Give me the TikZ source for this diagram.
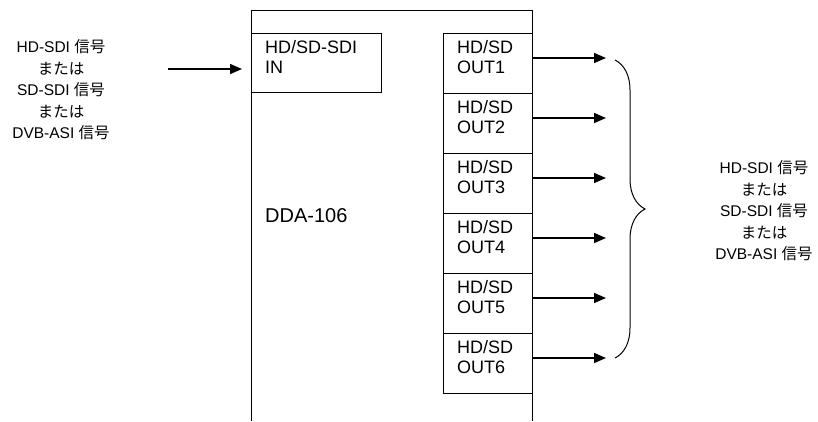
\documentclass[tikz,border=0pt]{standalone}
\usepackage{fontspec}
\setmainfont{Liberation Sans}
\newfontfamily\jpfont{Noto Sans CJK JP}
\usetikzlibrary{arrows.meta,decorations.pathreplacing}
\begin{document}
\begin{tikzpicture}[x=1pt,y=-1pt,
  frame/.style={draw=black,line width=1pt},
  portbox/.style={draw=black,line width=1pt,rectangle,inner sep=0pt,anchor=north west},
  porttext/.style={inner sep=0pt,anchor=north west,align=left,font=\fontsize{18}{20}\selectfont},
  sidetext/.style={inner sep=0pt,align=center,font=\fontsize{15.5}{21.5}\selectfont},
  sig/.style={line width=1.5pt,-{Triangle[length=12pt,width=10pt]}},
  brace/.style={line width=1pt,decorate,decoration={brace,amplitude=30pt}}]
\useasboundingbox (0,0) rectangle (818,421);
% main frame (open at the bottom)
\coordinate (fbl) at (251,421);
\coordinate (ftl) at (251,10);
\coordinate (ftr) at (532,10);
\coordinate (fbr) at (532,421);
\draw[frame] (fbl) -- (ftl) -- (ftr) -- (fbr);
% input box
\node[portbox,minimum width=130pt,minimum height=59pt] (in) at (251,33) {};
\node[porttext] (intext) at (265,40) {HD/SD-SDI\\IN};
% output boxes and arrows
\foreach \i in {1,...,6}{
  \node[portbox,minimum width=89pt,minimum height=60pt] (out\i) at (443,{33+60*(\i-1)}) {};
  \node[porttext] (outtext\i) at (457,{40+60*(\i-1)}) {HD/SD\\OUT\i};
  \coordinate (src\i) at (532,{58+60*(\i-1)});
  \coordinate (tip\i) at (606,{58+60*(\i-1)});
  \draw[sig] (src\i) -- (tip\i);
}
% device label
\node[inner sep=0pt,anchor=base west,font=\fontsize{20}{24}\selectfont] (dda) at (265,222) {DDA-106};
% input arrow
\coordinate (insrc) at (168,69);
\coordinate (intip) at (242,69);
\draw[sig] (insrc) -- (intip);
% left text
\node[sidetext] (lefttext) at (61,90) {HD-SDI {\jpfont 信号}\\{\jpfont または}\\SD-SDI {\jpfont 信号}\\{\jpfont または}\\DVB-ASI {\jpfont 信号}};
% brace
\coordinate (bt) at (615,60);
\coordinate (bb) at (615,358);
\draw[brace] (bt) -- (bb);
% right text
\node[sidetext] (righttext) at (764,211) {HD-SDI {\jpfont 信号}\\{\jpfont または}\\SD-SDI {\jpfont 信号}\\{\jpfont または}\\DVB-ASI {\jpfont 信号}};
\end{tikzpicture}
\end{document}
